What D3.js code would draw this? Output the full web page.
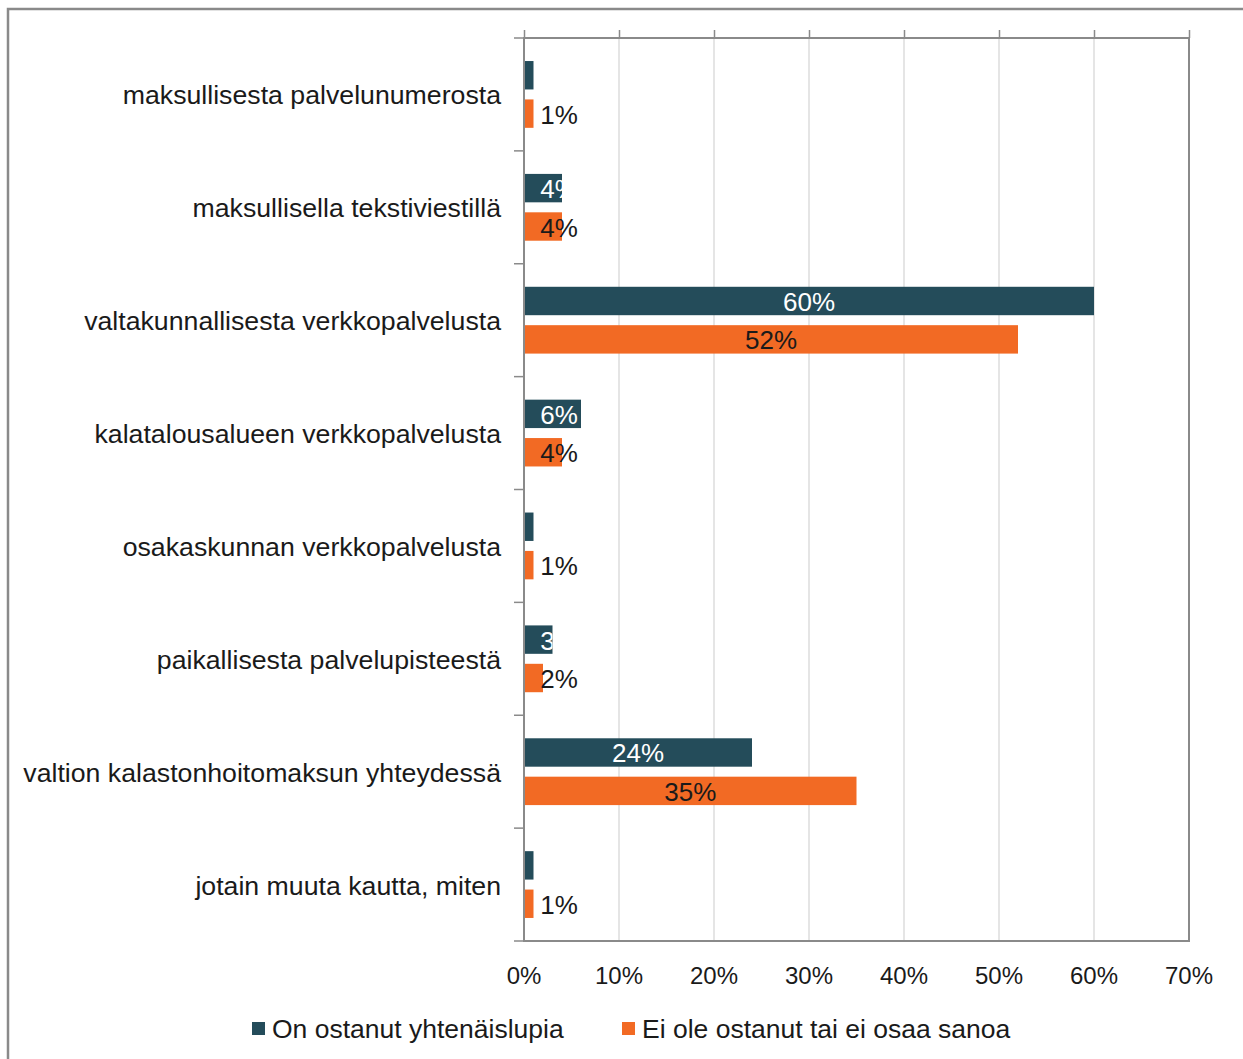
<!DOCTYPE html>
<html lang="en">
<head>
<meta charset="utf-8">
<title>yhtenäislupa</title>
<script src="https://d3js.org/d3.v7.min.js"></script>
<style>
	body { margin:0; background:#fff; }
	text { font-family:"Liberation Sans", Arial, sans-serif; }
</style>
</head>
<body>
<script>
	var categories = ["maksullisesta palvelunumerosta","maksullisella tekstiviestillä","valtakunnallisesta verkkopalvelusta","kalatalousalueen verkkopalvelusta","osakaskunnan verkkopalvelusta","paikallisesta palvelupisteestä","valtion kalastonhoitomaksun yhteydessä","jotain muuta kautta, miten"];
	var seriesNames = ["On ostanut yhtenäislupia","Ei ole ostanut tai ei osaa sanoa"];
	var ostanut = [1,4,60,6,1,3,24,1];
	var eiOstanut = [1,4,52,4,1,2,35,1];
	var ticks = [0,10,20,30,40,50,60,70];
	var colors = ["#244c5a","#f26a24"];
	var labelColors = ["#ffffff","#1a1a1a"];

	var W = 1243, H = 1059;
	// plot area (window.top is read-only, so no "top" var here)
	var pLeft = 524, pRight = 1189, pTop = 38, pBottom = 941;

	var svg = d3.select("body").append("svg")
		.attr("width", W)
		.attr("height", H);

	// outer chart border
	svg.append("rect")
		.attr("x", 8).attr("y", 9)
		.attr("width", W + 20).attr("height", H + 20)
		.attr("fill", "#fff")
		.attr("stroke", "#8a8a8a")
		.attr("stroke-width", 2.5);

	var x = d3.scaleLinear().domain([0, 70]).range([pLeft, pRight]);
	var y0 = d3.scaleBand().domain(categories).range([pTop, pBottom]);
	var y1 = d3.scaleBand().domain([0, 1]).range([0, y0.bandwidth()])
		.paddingInner(0.26).paddingOuter(0.6);

	// gridlines
	svg.append("g").selectAll("line")
		.data(ticks.slice(1))
		.enter().append("line")
		.attr("x1", function(d){ return x(d); })
		.attr("x2", function(d){ return x(d); })
		.attr("y1", pTop).attr("y2", pBottom)
		.attr("stroke", "#dcdcdc")
		.attr("stroke-width", 1.5);

	// top ticks (no labels)
	var topAxis = d3.axisTop(x).tickValues(ticks).tickSize(8).tickFormat("");
	svg.append("g")
		.attr("transform", "translate(0," + pTop + ")")
		.call(topAxis)
		.call(function(g){
			g.select(".domain").remove();
			g.selectAll("line").attr("stroke", "#8a8a8a").attr("stroke-width", 1.5);
		});

	// category ticks on the left
	var bounds = categories.map(function(c){ return y0(c); }).concat([pBottom]);
	svg.append("g").selectAll("line")
		.data(bounds)
		.enter().append("line")
		.attr("x1", pLeft - 10).attr("x2", pLeft)
		.attr("y1", function(d){ return d; })
		.attr("y2", function(d){ return d; })
		.attr("stroke", "#8a8a8a")
		.attr("stroke-width", 1.5);

	// bars
	var series = [ostanut, eiOstanut];
	series.forEach(function(vals, s){
		var g = svg.append("g");
		g.selectAll("rect")
			.data(vals)
			.enter().append("rect")
			.attr("x", x(0))
			.attr("y", function(d, i){ return y0(categories[i]) + y1(s); })
			.attr("width", function(d){ return x(d) - x(0); })
			.attr("height", y1.bandwidth())
			.attr("fill", colors[s]);
	});

	// data labels (white ones are clipped to their bar)
	series.forEach(function(vals, s){
		var clipId = "clip" + s;
		var cp = svg.append("defs").append("clipPath").attr("id", clipId);
		if (s == 0) {
			cp.selectAll("rect")
				.data(vals)
				.enter().append("rect")
				.attr("x", x(0))
				.attr("y", function(d, i){ return y0(categories[i]) + y1(s); })
				.attr("width", function(d){ return x(d) - x(0); })
				.attr("height", y1.bandwidth());
		} else {
			cp.append("rect").attr("x", 0).attr("y", 0).attr("width", W).attr("height", H);
		}
		svg.append("g")
			.attr("clip-path", "url(#" + clipId + ")")
			.selectAll("text")
			.data(vals)
			.enter().append("text")
			.attr("x", function(d){ return Math.max(x(d / 2), x(0) + 35); })
			.attr("y", function(d, i){ return y0(categories[i]) + y1(s) + y1.bandwidth() / 2 + 10; })
			.attr("text-anchor", "middle")
			.attr("font-size", "26px")
			.attr("fill", labelColors[s])
			.text(function(d){ return d + "%"; });
	});

	// plot frame
	svg.append("rect")
		.attr("x", pLeft).attr("y", pTop)
		.attr("width", pRight - pLeft).attr("height", pBottom - pTop)
		.attr("fill", "none")
		.attr("stroke", "#8a8a8a")
		.attr("stroke-width", 2);

	// category labels
	svg.append("g").selectAll("text")
		.data(categories)
		.enter().append("text")
		.attr("x", 501)
		.attr("y", function(d){ return y0(d) + y0.bandwidth() / 2 + 10; })
		.attr("text-anchor", "end")
		.attr("font-size", "26.7px")
		.attr("fill", "#1a1a1a")
		.text(function(d){ return d; });

	// x tick labels
	svg.append("g").selectAll("text")
		.data(ticks)
		.enter().append("text")
		.attr("x", function(d){ return x(d); })
		.attr("y", 984)
		.attr("text-anchor", "middle")
		.attr("font-size", "24px")
		.attr("fill", "#1a1a1a")
		.text(function(d){ return d + "%"; });

	// legend
	var legX = [252, 622];
	seriesNames.forEach(function(name, s){
		svg.append("rect")
			.attr("x", legX[s]).attr("y", 1022)
			.attr("width", 13).attr("height", 13)
			.attr("fill", colors[s]);
		svg.append("text")
			.attr("x", legX[s] + 20).attr("y", 1038)
			.attr("font-size", "26.5px")
			.attr("fill", "#1a1a1a")
			.text(name);
	});
</script>
</body>
</html>
